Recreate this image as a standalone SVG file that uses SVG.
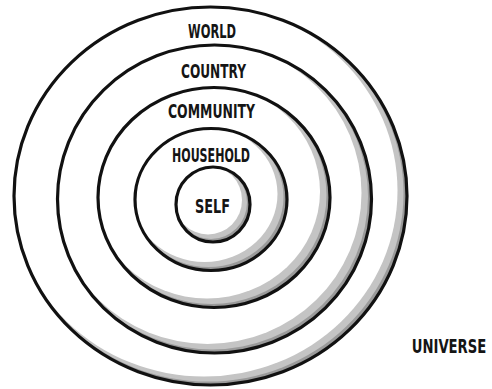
<svg xmlns="http://www.w3.org/2000/svg" width="492" height="389" viewBox="0 0 492 389">
<style>
.sh1{fill:#9a9a9a}
.sh2{fill:#c4c4c4}
.bg{fill:#fff}
.ln{fill:none;stroke:#111;stroke-width:3.2}
.lbl{font-family:"DejaVu Sans","Liberation Sans",sans-serif;font-weight:bold;font-size:15px;fill:#151515;text-anchor:middle}
</style>
<rect width="492" height="389" fill="#fff"/>
<g id="world">
<ellipse class="sh1" cx="210.5" cy="196" rx="196.5" ry="189"/>
<ellipse class="sh2" cx="208" cy="193.5" rx="195.5" ry="188"/>
<ellipse class="bg" cx="204" cy="190.5" rx="193.5" ry="186"/>
<ellipse class="ln" cx="210.5" cy="196" rx="196.5" ry="189"/>
<text class="lbl" transform="translate(212,38) scale(1,1.35)" textLength="48" lengthAdjust="spacingAndGlyphs">WORLD</text>
</g>
<g id="country">
<ellipse class="sh1" cx="214.5" cy="199" rx="157" ry="154"/>
<ellipse class="sh2" cx="212" cy="196.5" rx="156" ry="153"/>
<ellipse class="bg" cx="207.5" cy="193" rx="154" ry="151"/>
<ellipse class="ln" cx="214.5" cy="199" rx="157" ry="154"/>
<text class="lbl" transform="translate(213.5,78) scale(1,1.35)" textLength="65" lengthAdjust="spacingAndGlyphs">COUNTRY</text>
</g>
<g id="community">
<ellipse class="sh1" cx="214" cy="197.5" rx="116" ry="110"/>
<ellipse class="sh2" cx="211.5" cy="195" rx="115" ry="109"/>
<ellipse class="bg" cx="207" cy="191.5" rx="113" ry="107"/>
<ellipse class="ln" cx="214" cy="197.5" rx="116" ry="110"/>
<text class="lbl" transform="translate(211.5,118) scale(1,1.35)" textLength="87" lengthAdjust="spacingAndGlyphs">COMMUNITY</text>
</g>
<g id="household">
<ellipse class="sh1" cx="211" cy="199.5" rx="76" ry="71"/>
<ellipse class="sh2" cx="208.5" cy="197" rx="75" ry="70"/>
<ellipse class="bg" cx="204.5" cy="194" rx="73" ry="68"/>
<ellipse class="ln" cx="211" cy="199.5" rx="76" ry="71"/>
<text class="lbl" transform="translate(211,162) scale(1,1.35)" textLength="78" lengthAdjust="spacingAndGlyphs">HOUSEHOLD</text>
</g>
<g id="self">
<ellipse class="sh1" cx="213" cy="204.5" rx="37" ry="37.5"/>
<ellipse class="sh2" cx="211" cy="202.5" rx="36" ry="36.5"/>
<ellipse class="bg" cx="208" cy="200" rx="34" ry="34.5"/>
<ellipse class="ln" cx="213" cy="204.5" rx="37" ry="37.5"/>
<text class="lbl" transform="translate(212.5,213) scale(1,1.35)" textLength="35" lengthAdjust="spacingAndGlyphs">SELF</text>
</g>
<g id="universe">
<text class="lbl" style="font-size:13.2px" transform="translate(449,353) scale(1,1.52)">UNIVERSE</text>
</g>
</svg>
